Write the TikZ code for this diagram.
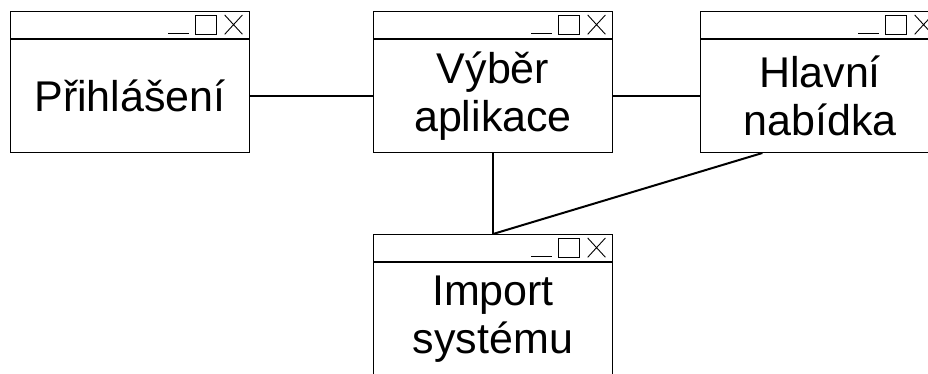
\documentclass[tikz,border=0pt]{standalone}
\usepackage{fontspec}
\setmainfont{Liberation Sans}
\usetikzlibrary{calc}
\tikzset{
  winbody/.style={draw, line width=1pt, minimum width=239pt, minimum height=113pt,
    inner sep=0pt, align=center, font=\fontsize{43}{48}\selectfont, anchor=north west},
  winbar/.style={draw, line width=1pt, minimum width=239pt, minimum height=27pt,
    inner sep=0pt, anchor=south},
  winicon/.style={line width=0.9pt},
  link/.style={line width=2pt},
}
% A window: body with its caption, a title bar, and minimise/maximise/close marks
\newcommand\appwin[3]{%
  \node[winbody] (#1) at (#2) {#3};
  \node[winbar] (#1-bar) at (#1.north) {};
  \draw[winicon] ($(#1-bar.north east)+(-82,-22.5)$) -- ++(20.5,0);
  \draw[winicon] ($(#1-bar.north east)+(-55,-4)$) rectangle ++(21.5,-19.3);
  \draw[winicon] ($(#1-bar.north east)+(-25.3,-4)$) -- ++(17.7,-19.3)
    ++(0,19.3) -- ++(-17.7,-19.3);
}
\begin{document}
\begin{tikzpicture}[x=1pt,y=1pt]
  \useasboundingbox (0,0) rectangle (928,374);
  \clip (0,0) rectangle (928,374);
  \appwin{login}{10,335}{Přihlášení}
  \appwin{select}{373,335}{Výběr\\aplikace}
  \appwin{menu}{700,335}{Hlavní\\nabídka}
  \appwin{import}{373,112}{Import\\systému}
  \draw[link] (login.east) -- (select.west);
  \draw[link] (select.east) -- (menu.west);
  \draw[link] (select.south) -- (import-bar.north);
  \draw[link] ($(menu.south west)!0.26!(menu.south east)$) -- (import-bar.north);
\end{tikzpicture}
\end{document}
